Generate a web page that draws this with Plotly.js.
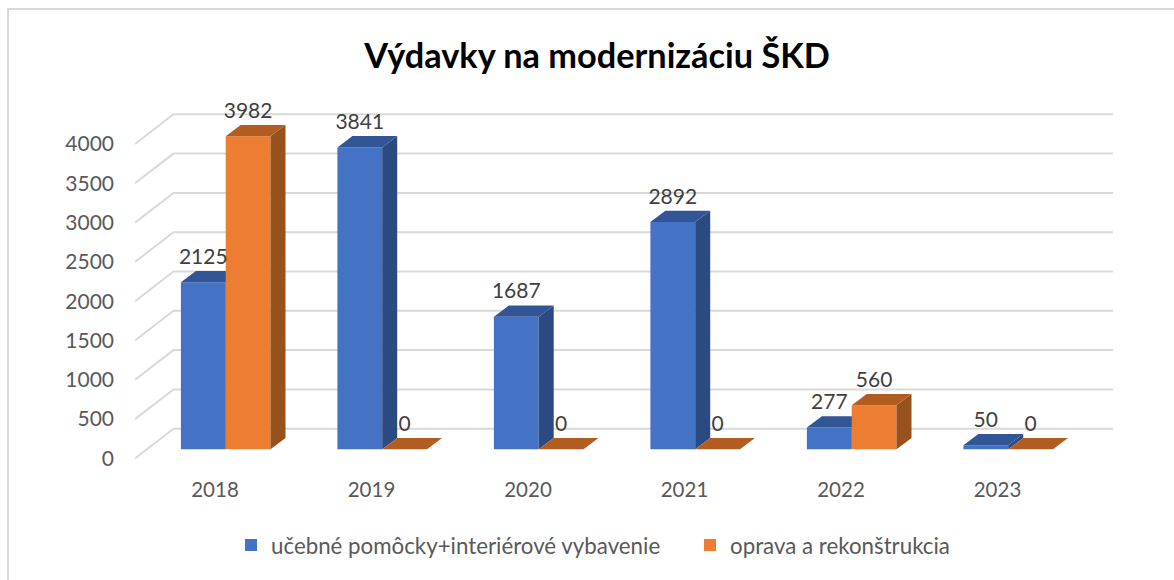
<!DOCTYPE html>
<html><head><meta charset="utf-8">
<script src="https://cdn.plot.ly/plotly-3.0.1.min.js"></script>
<style>html,body{margin:0;padding:0;background:#fff}</style></head>
<body><div id="c" style="width:1174px;height:580px"></div>
<script>
const years = [2018, 2019, 2020, 2021, 2022, 2023];
const pomocky = [2125, 3841, 1687, 2892, 277, 50];
const oprava = [3982, 0, 0, 0, 560, 0];
const gridValues = [0, 500, 1000, 1500, 2000, 2500, 3000, 3500, 4000];
const seriesNames = ['učebné pomôcky+interiérové vybavenie', 'oprava a rekonštrukcia'];
const titleText = 'Výdavky na modernizáciu ŠKD';

// plot frame in page pixels and the scales that map values to it
const L = 135, R = 1113, T = 90, B = 470;
const baseY = 449.3, pxPerUnit = 0.0786, pxPerYear = 156.5, firstX = 225.7;
const ux = p => p / pxPerYear, uy = p => p / pxPerUnit;
const xRange = sh => [years[0] + ux(L - firstX - sh), years[0] + ux(R - firstX - sh)];
const yRange = sh => [-uy(B - baseY - sh), uy(baseY + sh - T)];
const barW = ux(44.8), depthX = ux(15), depthY = uy(11.3);
const font = 'Lato, Carlito, Calibri, sans-serif';

function faces(vals, off) {
  const side = {x: [], y: []}, top = {x: [], y: []};
  years.forEach((yr, i) => {
    const a = yr + off * barW, b = a + barW, v = vals[i];
    top.x.push(a, b, b + depthX, a + depthX, a, null);
    top.y.push(v, v, v + depthY, v + depthY, v, null);
    side.x.push(b, b + depthX, b + depthX, b, b, null);
    side.y.push(0, depthY, v + depthY, v, 0, null);
  });
  return {side, top};
}
const poly = (f, color, ya) => ({type: 'scatter', mode: 'lines', x: f.x, y: f.y, yaxis: ya, fill: 'toself',
  fillcolor: color, line: {width: 0, color}, hoverinfo: 'skip', showlegend: false});

const gx = [], gy = [];
const backX = years[0] + ux(173.5 - firstX), frontX = years[0] + ux(L - firstX), endX = years[0] + ux(R - firstX);
gridValues.forEach(v => {
  gx.push(frontX, backX, endX, null);
  gy.push(v - uy(9.1), v + uy(20.6), v + uy(20.6), null);
});

const bf = faces(pomocky, -1), of = faces(oprava, 0);
const labelLift = uy(23.5);
const traces = [
  {type: 'scatter', mode: 'lines', x: gx, y: gy, line: {color: '#d9d9d9', width: 2}, hoverinfo: 'skip', showlegend: false},
  {type: 'bar', name: seriesNames[0], x: years, y: pomocky, yaxis: 'y2', width: barW, offset: -barW, marker: {color: '#4472C4'}},
  poly(bf.side, '#2B4A82', 'y2'),
  poly(bf.top, '#325596', 'y2'),
  {type: 'bar', name: seriesNames[1], x: years, y: oprava, yaxis: 'y3', width: barW, offset: 0, marker: {color: '#ED7D31'}},
  poly(of.side, '#96511C', 'y3'),
  poly(of.top, '#B25C22', 'y3'),
  {type: 'scatter', mode: 'text', x: years.map(y => y - barW / 2), y: pomocky.map(v => v + labelLift), yaxis: 'y3',
   text: pomocky.map(String), textposition: 'middle center', textfont: {family: font, size: 21, color: '#404040'}, hoverinfo: 'skip', showlegend: false, cliponaxis: false},
  {type: 'scatter', mode: 'text', x: years.map(y => y + barW / 2), y: oprava.map(v => v + labelLift), yaxis: 'y3',
   text: oprava.map(String), textposition: 'middle center', textfont: {family: font, size: 21, color: '#404040'}, hoverinfo: 'skip', showlegend: false, cliponaxis: false},
  {type: 'scatter', mode: 'markers', x: years, y: gridValues.slice(0, 6), xaxis: 'x2', yaxis: 'y4', marker: {opacity: 0}, hoverinfo: 'skip', showlegend: false}
];

const xp = p => (p - L) / (R - L), yp = p => (B - p) / (B - T);
const hidden = {showgrid: false, zeroline: false, showline: false, showticklabels: false, ticks: ''};
const layout = {
  width: 1174, height: 580, autosize: false,
  margin: {l: L, r: 1174 - R, t: T, b: 580 - B, pad: 0},
  paper_bgcolor: '#fff', plot_bgcolor: 'rgba(0,0,0,0)',
  font: {family: font, color: '#595959', size: 20},
  title: {text: '<b>' + titleText + '</b>', font: {family: font, size: 34.3, color: '#000'}, x: 597 / 1174, xanchor: 'center', y: 1 - 56 / 580, yanchor: 'middle', yref: 'container', xref: 'container'},
  xaxis: Object.assign({range: xRange(0), type: 'linear'}, hidden),
  yaxis: Object.assign({range: yRange(0)}, hidden),
  yaxis2: Object.assign({range: yRange(0), overlaying: 'y'}, hidden),
  yaxis3: Object.assign({range: yRange(0), overlaying: 'y'}, hidden),
  xaxis2: {range: xRange(-10.7), type: 'linear', overlaying: 'x', anchor: 'y4', side: 'bottom', tickmode: 'array', tickvals: years,
    ticktext: years.map(String), showgrid: false, zeroline: false, showline: false, ticks: '', ticklabelstandoff: 5, tickfont: {family: font, size: 20.5, color: '#595959'}},
  yaxis4: {range: yRange(9.1), overlaying: 'y', anchor: 'x2', side: 'left', tickmode: 'array', tickvals: gridValues,
    ticktext: gridValues.map(String), showgrid: false, zeroline: false, showline: false, ticks: '', ticklabelstandoff: 20, tickfont: {family: font, size: 21, color: '#595959'}},
  legend: {orientation: 'h', x: xp(231), xanchor: 'left', y: yp(545), yanchor: 'middle', font: {family: font, size: 22.3, color: '#595959'}, entrywidth: 414, entrywidthmode: 'pixels', itemclick: false, itemdoubleclick: false, traceorder: 'normal'},
  shapes: [{type: 'path', xref: 'paper', yref: 'paper', path: `M ${xp(8)} ${yp(580)} L ${xp(8)} ${yp(9)} L ${xp(1174)} ${yp(9)}`, line: {color: '#d9d9d9', width: 2}}],
  showlegend: true, hovermode: false
};
Plotly.newPlot('c', traces, layout, {displayModeBar: false});
</script></body></html>
